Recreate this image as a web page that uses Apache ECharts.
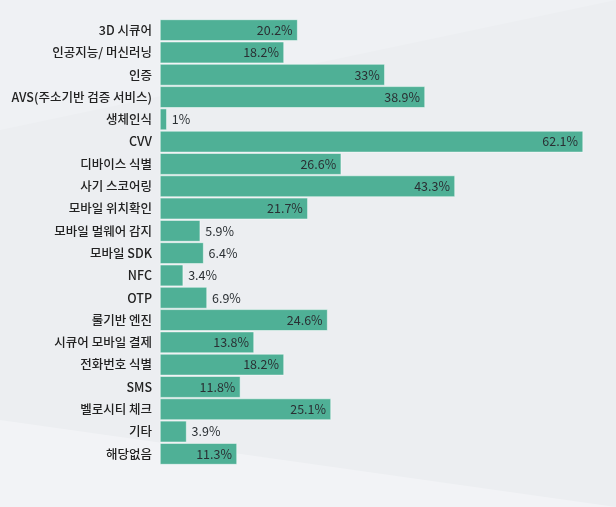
<!DOCTYPE html>
<html>
<head>
<meta charset="utf-8">
<script src="https://cdn.jsdelivr.net/npm/echarts@6/dist/echarts.min.js"></script>
<style>
html, body { margin: 0; padding: 0; background: #eff1f4; }
#container { width: 616px; height: 507px; }
</style>
</head>
<body>
<div id="container"></div>
<script>
var categories = ['3D 시큐어', '인공지능/ 머신러닝', '인증', 'AVS(주소기반 검증 서비스)', '생체인식', 'CVV',
    '디바이스 식별', '사기 스코어링', '모바일 위치확인', '모바일 멀웨어 감지', '모바일 SDK', 'NFC', 'OTP',
    '룰기반 엔진', '시큐어 모바일 결제', '전화번호 식별', 'SMS', '벨로시티 체크', '기타', '해당없음'];
var values = [20.2, 18.2, 33, 38.9, 1, 62.1, 26.6, 43.3, 21.7, 5.9, 6.4, 3.4, 6.9, 24.6, 13.8, 18.2, 11.8, 25.1, 3.9, 11.3];

var dom = document.getElementById('container');
var myChart = echarts.init(dom);

var option = {
    backgroundColor: '#eff1f4',
    textStyle: { fontFamily: 'Noto Sans CJK KR' },
    graphic: [{
        type: 'polygon',
        silent: true,
        z: -10,
        shape: { points: [[0, 130], [616, 0], [616, 507], [0, 507]] },
        style: { fill: '#eceef1' }
    }, {
        type: 'polygon',
        silent: true,
        z: -9,
        shape: { points: [[0, 420], [616, 507], [0, 507]] },
        style: { fill: '#f2f3f6' }
    }],
    grid: { left: 160, right: 20, top: 19, bottom: 42 },
    xAxis: { type: 'value', min: 0, max: 64, show: false },
    yAxis: {
        type: 'category',
        data: categories,
        inverse: true,
        axisLine: { show: false },
        axisTick: { show: false },
        axisLabel: { color: '#222', fontSize: 12.5, fontWeight: 500, margin: 8 }
    },
    series: [{
        type: 'bar',
        barCategoryGap: '4%',
        data: values.map(function (v) {
            return {
                value: v,
                label: { position: v < 8 ? 'right' : 'insideRight' }
            };
        }),
        itemStyle: { color: '#4fb096', borderColor: '#ffffff', borderWidth: 0.5 },
        label: {
            show: true,
            color: '#2a2f33',
            fontSize: 12.5,
            distance: 5,
            formatter: '{c}%'
        }
    }]
};

myChart.setOption(option);
</script>
</body>
</html>
